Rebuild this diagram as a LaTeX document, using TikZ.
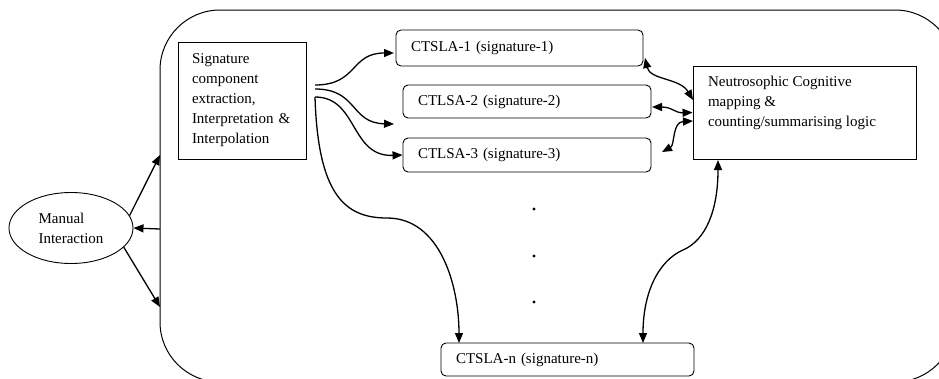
\documentclass[tikz,border=0pt]{standalone}
\usepackage{fontspec}
\setmainfont{Liberation Serif}
\usetikzlibrary{arrows.meta,shapes.geometric}

\tikzset{
	box/.style={draw, line width=0.9pt, inner xsep=15pt, inner ysep=0pt, align=left},
	slot/.style={box, rounded corners=5pt},
	arr/.style={-{Triangle[length=10pt,width=8pt]}, line width=1.3pt},
	biarr/.style={{Triangle[length=10pt,width=8pt]}-{Triangle[length=10pt,width=8pt]}, line width=1.3pt}
}

\begin{document}
\begin{tikzpicture}[x=1pt, y=-1pt, font=\fontsize{15pt}{20pt}\selectfont]
	\useasboundingbox (0,0) rectangle (939,378);
	\clip (0,0) rectangle (939,378);
	\draw[line width=1pt, rounded corners=60pt] (160,10) rectangle (955,382);
	\node[draw, ellipse, line width=0.9pt, minimum width=124pt, minimum height=71pt, align=left] (manual) at (71,228) {Manual\\Interaction};
	\node[box, inner xsep=14pt, text width=100pt, minimum height=117pt] (sig) at (242,100.5) {Signature\\component\\extraction,\\Interpretation \&\\Interpolation};
	\node[slot, text width=217pt, minimum height=36pt] (c1) at (519.5,48) {CTSLA-1 (signature-1)};
	\node[slot, text width=218pt, minimum height=33pt] (c2) at (527,101.5) {CTLSA-2 (signature-2)};
	\node[slot, text width=218pt, minimum height=34pt] (c3) at (527,155) {CTLSA-3 (signature-3)};
	\node[slot, text width=223pt, minimum height=33pt] (cn) at (567.5,359.5) {CTSLA-n (signature-n)};
	\node[box, inner ysep=10pt] (ncm) at (804.5,112.5) {\parbox[c][73pt][t]{193pt}{Neutrosophic Cognitive\\mapping \&\\counting/summarising logic}};
	\foreach \y in {209,256,302}
		\fill (534,\y) circle (1.6pt);

	\coordinate (e1) at (160,155);
	\coordinate (e2) at (160,229);
	\coordinate (e3) at (160,307);
	\coordinate (s1) at (315,85);
	\coordinate (s2) at (315,89);
	\coordinate (s3) at (315,97);
	\coordinate (a1) at (394,53);
	\coordinate (a2) at (394,124);
	\coordinate (an) at (459,343);
	\coordinate (b1) at (645,58);
	\coordinate (b2) at (693,100);
	\coordinate (b3) at (652,107);
	\coordinate (b4) at (662,152);
	\coordinate (b5) at (693,121);
	\coordinate (b6) at (643,343);
	\coordinate (b7) at (718,160);

	\draw[arr] (manual.12) -- (e1);
	\draw[arr] (e2) -- (manual.east);
	\draw[arr] (manual.-20) -- (e3);
	\draw[arr] (s1) .. controls (358,85) and (350,53) .. (a1);
	\draw[arr] (s2) .. controls (358,89) and (350,123) .. (a2);
	\draw[arr] (s3) .. controls (358,97) and (350,157) .. (c3.west);
	\draw[arr] (s3) .. controls (318,195) and (345,218) .. (387,218) .. controls (440,218) and (459,285) .. (an);
	\draw[biarr] (b1) .. controls (650,80) and (680,78) .. (b2);
	\draw[biarr] (b3) .. controls (672,107) and (675,113) .. (ncm.west);
	\draw[biarr] (b4) .. controls (675,145) and (672,122) .. (b5);
	\draw[biarr] (b6) .. controls (643,290) and (660,260) .. (683,250) .. controls (706,240) and (718,210) .. (b7);
\end{tikzpicture}
\end{document}
